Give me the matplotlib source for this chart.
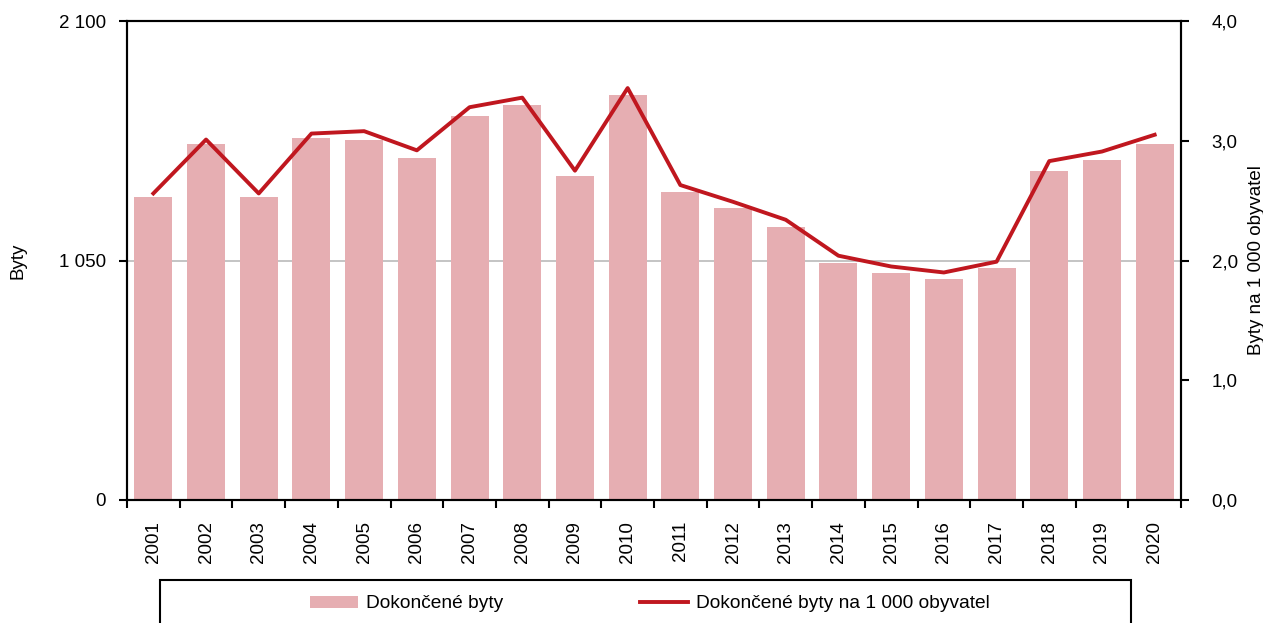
import numpy as np
import matplotlib
matplotlib.use('Agg')
import matplotlib.pyplot as plt
from matplotlib.patches import Rectangle
from matplotlib.ticker import FuncFormatter

plt.rcParams['font.family'] = ['Liberation Sans', 'DejaVu Sans']
plt.rcParams['font.size'] = 13.5

years = [str(y) for y in range(2001, 2021)]
byty = [1327, 1560, 1327, 1586, 1577, 1498, 1683, 1731, 1419, 1775,
        1349, 1278, 1195, 1041, 997, 971, 1015, 1441, 1489, 1560]
byty_na_1000 = [2.56, 3.01, 2.56, 3.06, 3.08, 2.92, 3.28, 3.36, 2.75, 3.44,
                2.63, 2.49, 2.34, 2.04, 1.95, 1.90, 1.99, 2.83, 2.91, 3.05]

bar_color = '#E6AEB2'
line_color = '#C0171F'

W, H = 1263, 623
fig = plt.figure(figsize=(W / 100, H / 100), dpi=100)
ax = fig.add_axes([127 / W, 1 - 500 / H, (1181 - 127) / W, (500 - 21) / H])

x = np.arange(len(years))
bars = ax.bar(x, byty, width=0.72, color=bar_color, zorder=2,
              label='Dokončené byty')
ax.set_xlim(-0.5, len(years) - 0.5)
ax.set_ylim(0, 2100)
ax.set_yticks([0, 1050, 2100])
ax.yaxis.set_major_formatter(FuncFormatter(lambda v, p: f'{int(v):,}'.replace(',', ' ')))
ax.axhline(1050, color='#BFBFBF', lw=1.3, zorder=1)

ax.set_xticks(x)
ax.set_xticklabels(years, rotation=90)
ax.set_xticks(np.arange(-0.5, len(years)), minor=True)
ax.tick_params(axis='x', which='major', length=0, pad=15)
ax.tick_params(axis='x', which='minor', length=6, width=1.5, direction='out')
ax.tick_params(axis='y', length=6, width=1.5, direction='out', pad=9)

for s in ['left', 'bottom', 'top', 'right']:
    ax.spines[s].set_linewidth(1.5)
ax.set_ylabel('Byty')
ax.yaxis.set_label_coords((26 - 127) / 1054, 0.5)

ax2 = ax.twinx()
line, = ax2.plot(x, byty_na_1000, color=line_color, lw=2.8,
                 label='Dokončené byty na 1 000 obyvatel', zorder=3)
ax2.set_ylim(0, 4)
ax2.set_yticks([0, 1, 2, 3, 4])
ax2.yaxis.set_major_formatter(FuncFormatter(lambda v, p: f'{v:.1f}'.replace('.', ',')))
ax2.tick_params(axis='y', length=6, width=1.5, direction='out', pad=16)
for s in ax2.spines.values():
    s.set_linewidth(1.5)
ax2.set_ylabel('Byty na 1 000 obyvatel')
ax2.yaxis.set_label_coords((1248 - 127) / 1054, 0.5)

# legend box reaching past the bottom edge
fig.patches.append(Rectangle((160 / W, -0.05), (1131 - 160) / W, 0.05 + (623 - 580) / H,
                             transform=fig.transFigure, fill=False,
                             edgecolor='black', lw=1.5))
fig.legend([bars, line], [bars.get_label(), line.get_label()],
           loc='center', bbox_to_anchor=(650 / W, 1 - 604 / H), ncol=2,
           frameon=False, fontsize=13.8, handlelength=2.5, handleheight=0.6,
           columnspacing=7.1, handletextpad=0.42)

fig.savefig('out.png', dpi=100)
